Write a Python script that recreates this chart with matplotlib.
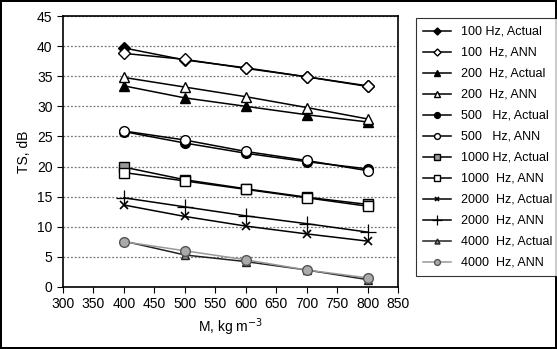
import matplotlib as mpl
mpl.use('Agg')
import matplotlib.pyplot as plt

plt.rcParams['font.family'] = ['Liberation Sans', 'DejaVu Sans']

density = [400, 500, 600, 700, 800]

ts_100_actual = [39.7, 37.7, 36.4, 34.9, 33.4]
ts_100_ann = [38.8, 37.8, 36.3, 34.9, 33.3]
ts_200_actual = [33.4, 31.4, 30.0, 28.6, 27.4]
ts_200_ann = [34.8, 33.2, 31.6, 29.8, 27.9]
ts_500_actual = [25.8, 23.9, 22.2, 20.8, 19.6]
ts_500_ann = [25.9, 24.4, 22.5, 21.0, 19.3]
ts_1000_actual = [19.9, 17.8, 16.3, 14.9, 13.7]
ts_1000_ann = [19.0, 17.6, 16.2, 14.8, 13.4]
ts_2000_actual = [13.6, 11.7, 10.1, 8.8, 7.6]
ts_2000_ann = [14.8, 13.3, 11.8, 10.5, 9.1]
ts_4000_actual = [7.6, 5.3, 4.2, 2.8, 1.2]
ts_4000_ann = [7.5, 6.0, 4.5, 2.8, 1.5]

labels = ['100 Hz, Actual', '100  Hz, ANN', '200  Hz, Actual', '200  Hz, ANN',
          '500   Hz, Actual', '500   Hz, ANN', '1000 Hz, Actual', '1000  Hz, ANN',
          '2000  Hz, Actual', '2000  Hz, ANN', '4000  Hz, Actual', '4000  Hz, ANN']

fig = plt.figure(figsize=(5.57, 3.49), dpi=100)
fig.patch.set_edgecolor('black')
fig.patch.set_linewidth(1.5)
ax = fig.add_axes([0.113, 0.178, 0.602, 0.776])

series = [
    (ts_100_actual, dict(marker='D', color='black', mfc='black', ms=6)),
    (ts_100_ann, dict(marker='D', color='black', mfc='white', ms=6)),
    (ts_200_actual, dict(marker='^', color='black', mfc='black', ms=7)),
    (ts_200_ann, dict(marker='^', color='black', mfc='white', ms=7)),
    (ts_500_actual, dict(marker='o', color='black', mfc='black', ms=7)),
    (ts_500_ann, dict(marker='o', color='black', mfc='white', ms=7)),
    (ts_1000_actual, dict(marker='s', color='black', mfc='#999999', ms=7)),
    (ts_1000_ann, dict(marker='s', color='black', mfc='white', ms=7)),
    (ts_2000_actual, dict(marker='x', color='black', ms=6, mew=1.2)),
    (ts_2000_ann, dict(marker='+', color='black', ms=11, mew=0.9)),
    (ts_4000_actual, dict(marker='^', color='#222222', mfc='#888888', ms=6)),
    (ts_4000_ann, dict(marker='o', color='#999999', mfc='#aaaaaa', mec='#555555', ms=7)),
]
for (vals, style), lab in zip(series, labels):
    ax.plot(density, vals, lw=1.1, label=lab, **style)

ax.set_xlim(300, 850)
ax.set_ylim(0, 45)
ax.set_xticks(range(300, 851, 50))
ax.set_yticks(range(0, 46, 5))
ax.yaxis.grid(True, linestyle=(0, (1.5, 1.5)), color='#777777', lw=0.9)
ax.set_axisbelow(True)
ax.tick_params(labelsize=10, direction='out', length=4)
for s in ax.spines.values():
    s.set_linewidth(1.2)
ax.set_xlabel('M, kg m$^{-3}$', fontsize=10)
ax.set_ylabel('TS, dB', fontsize=10)

leg = fig.legend(loc='upper left', bbox_to_anchor=(0.735, 0.965), fontsize=9,
                 frameon=True, fancybox=False, edgecolor='black',
                 markerscale=0.6, handlelength=2.2, labelspacing=0.72,
                 borderpad=0.6)
leg.get_frame().set_linewidth(0.8)

fig.savefig('out.png', dpi=100)
